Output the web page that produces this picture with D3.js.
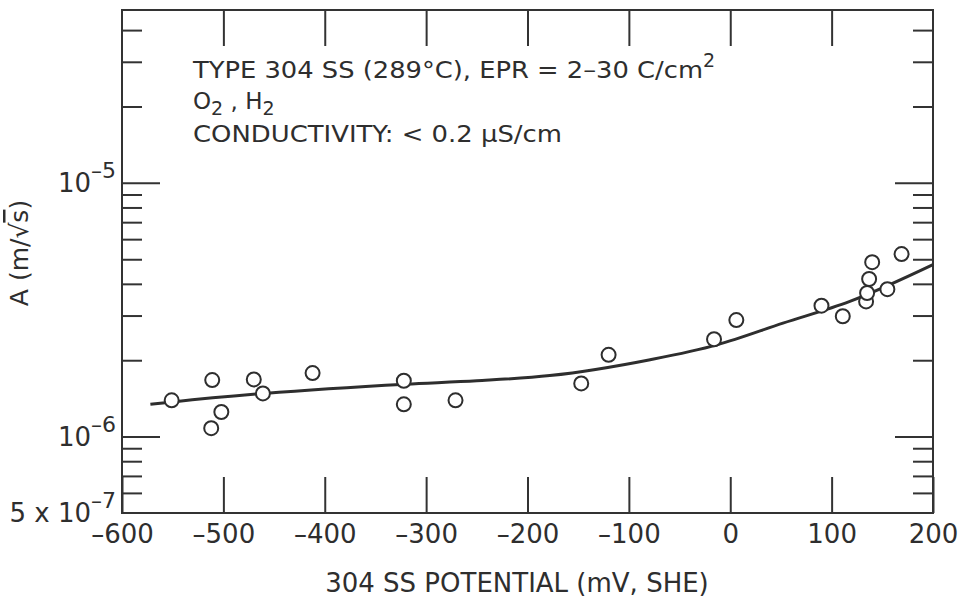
<!DOCTYPE html>
<html>
<head>
<meta charset="utf-8">
<script src="https://cdn.jsdelivr.net/npm/d3@7"></script>
<style>
body { margin: 0; background: #fff; }
svg text { font-family: "DejaVu Sans", sans-serif; fill: #2e2e2e; }
.axis line { stroke: #333; stroke-width: 2; }
</style>
</head>
<body>
<svg width="963" height="599"></svg>
<script>
// measured points, potential in mV (SHE), A in m/sqrt(s)
var potential = [-551, -511, -512, -502, -470, -461, -412, -322, -322, -271,
    -147, -120, -16, 6, 90, 111, 134, 135, 137, 140, 155, 169];
var crackA = [1.39e-6, 1.67e-6, 1.08e-6, 1.25e-6, 1.68e-6, 1.48e-6, 1.78e-6, 1.66e-6, 1.34e-6, 1.39e-6,
    1.62e-6, 2.10e-6, 2.42e-6, 2.88e-6, 3.28e-6, 2.98e-6, 3.41e-6, 3.68e-6, 4.18e-6, 4.87e-6, 3.81e-6, 5.24e-6];

// fitted curve
var fitPotential = [-572, -550, -460, -320, -250, -178, -79, -13, 52, 118, 200];
var fitA = [1.34e-6, 1.37e-6, 1.48e-6, 1.61e-6, 1.66e-6, 1.74e-6, 2.01e-6, 2.30e-6, 2.80e-6, 3.41e-6, 4.76e-6];

var xTicks = [-600, -500, -400, -300, -200, -100, 0, 100, 200];
var yMajor = [1e-6, 1e-5];
var yMinor = [6e-7, 7e-7, 8e-7, 9e-7, 2e-6, 3e-6, 4e-6, 5e-6, 6e-6, 7e-6, 8e-6, 9e-6, 2e-5, 3e-5, 4e-5];
var yLabelValues = [5e-7, 1e-6, 1e-5];
var yLabelBase = ["5 x 10", "10", "10"];
var yLabelExp = ["\u2013" + "7", "\u2013" + "6", "\u2013" + "5"];

var svg = d3.select("svg");

var plotLeft = 122, plotRight = 933, plotTop = 10, plotBottom = 513;

var x = d3.scaleLinear().domain([-600, 200]).range([plotLeft, plotRight]);
var y = d3.scaleLog().domain([5e-7, 4.8e-5]).range([plotBottom, plotTop]);

function fmtX(d) { return d < 0 ? "\u2013" + Math.abs(d) : String(d); }

// frame
svg.append("rect")
    .attr("x", plotLeft).attr("y", plotTop)
    .attr("width", plotRight - plotLeft).attr("height", plotBottom - plotTop)
    .attr("fill", "none").attr("stroke", "#333").attr("stroke-width", 2);

// x ticks, bottom with labels, top without
var xb = svg.append("g").attr("class", "axis")
    .attr("transform", "translate(0," + plotBottom + ")")
    .call(d3.axisBottom(x).tickValues(xTicks).tickSizeInner(-36).tickSizeOuter(0)
        .tickPadding(12).tickFormat(fmtX));
xb.selectAll("text").attr("font-size", 26).style("font-family", "DejaVu Sans").attr("fill", "#2e2e2e");

svg.append("g").attr("class", "axis")
    .attr("transform", "translate(0," + plotTop + ")")
    .call(d3.axisTop(x).tickValues(xTicks.slice(1, -1)).tickSizeInner(-36).tickSizeOuter(0).tickFormat(""));

// y ticks on both sides
[[d3.axisLeft, plotLeft], [d3.axisRight, plotRight]].forEach(function (s) {
    svg.append("g").attr("class", "axis")
        .attr("transform", "translate(" + s[1] + ",0)")
        .call(s[0](y).tickValues(yMajor).tickSizeInner(-38).tickSizeOuter(0).tickFormat(""));
    svg.append("g").attr("class", "axis")
        .attr("transform", "translate(" + s[1] + ",0)")
        .call(s[0](y).tickValues(yMinor).tickSizeInner(-20).tickSizeOuter(0).tickFormat(""));
});
svg.selectAll(".axis .domain").remove();

// y tick labels with exponents
var yl = svg.append("g").selectAll("text")
    .data(yLabelValues)
    .enter().append("text")
    .attr("x", 116)
    .attr("y", function (d) { return y(d) + 9; })
    .attr("text-anchor", "end")
    .attr("font-size", 26);
yl.append("tspan").text(function (d, i) { return yLabelBase[i]; });
yl.append("tspan").attr("dy", -14).attr("font-size", 22)
    .text(function (d, i) { return yLabelExp[i]; });

// axis titles
svg.append("text")
    .attr("x", 517)
    .attr("y", 592)
    .attr("text-anchor", "middle")
    .attr("font-size", 26)
    .text("304 SS POTENTIAL (mV, SHE)");

var yt = svg.append("text")
    .attr("transform", "translate(28,253) rotate(-90)")
    .attr("text-anchor", "middle")
    .attr("font-size", 25);
yt.append("tspan").text("A (m/\u221A");
yt.append("tspan").style("text-decoration", "overline").text("s");
yt.append("tspan").text(")");

// annotation
var note = svg.append("g").attr("transform", "translate(193,0)");
var l1 = note.append("text").attr("y", 78).attr("font-size", 23);
l1.append("tspan").attr("textLength", 510).attr("lengthAdjust", "spacingAndGlyphs")
    .text("TYPE 304 SS (289\u00B0C), EPR = 2\u201330 C/cm");
l1.append("tspan").attr("dy", -11).attr("font-size", 19).text("2");
var l2 = note.append("text").attr("y", 109).attr("font-size", 23);
l2.append("tspan").text("O");
l2.append("tspan").attr("dy", 6).attr("font-size", 19).text("2");
l2.append("tspan").attr("dy", -6).text(" , H");
l2.append("tspan").attr("dy", 6).attr("font-size", 19).text("2");
note.append("text").attr("y", 142).attr("font-size", 23)
    .attr("textLength", 369).attr("lengthAdjust", "spacingAndGlyphs")
    .text("CONDUCTIVITY: < 0.2 \u00B5S/cm");

// fitted line
var fit = fitPotential.map(function (p, i) { return [p, fitA[i]]; });
var line = d3.line()
    .x(function (d) { return x(d[0]); })
    .y(function (d) { return y(d[1]); })
    .curve(d3.curveMonotoneX);
svg.append("path")
    .datum(fit)
    .attr("d", line)
    .attr("fill", "none")
    .attr("stroke", "#2e2e2e")
    .attr("stroke-width", 3);

// data points
svg.append("g").selectAll("circle")
    .data(potential)
    .enter().append("circle")
    .attr("cx", function (d) { return x(d); })
    .attr("cy", function (d, i) { return y(crackA[i]); })
    .attr("r", 7)
    .attr("fill", "#fff")
    .attr("stroke", "#2e2e2e")
    .attr("stroke-width", 2);
</script>
</body>
</html>
